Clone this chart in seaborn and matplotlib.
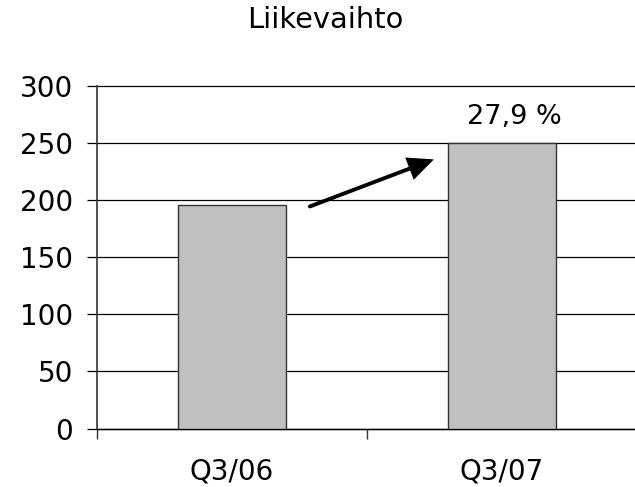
import matplotlib
matplotlib.use("Agg")
import matplotlib.pyplot as plt
import seaborn as sns
import pandas as pd

categories = ["Q3/06", "Q3/07"]
values = [195.5, 250.0]
yticks = [0, 50, 100, 150, 200, 250, 300]
title = "Liikevaihto"
growth_label = "27,9 %"

sns.set_style("white")
plt.rcParams['font.family'] = ['DejaVu Sans']
plt.rcParams['text.color'] = 'black'
plt.rcParams['xtick.color'] = 'black'
plt.rcParams['ytick.color'] = 'black'

df = pd.DataFrame({"quarter": categories, "value": values})

left_px, right_px, top_px, bottom_px = 96.7, 637.0, 85.7, 428.5
fig = plt.figure(figsize=(6.35, 4.87), dpi=100)
ax = fig.add_axes([left_px/635, 1-bottom_px/487, (right_px-left_px)/635, (bottom_px-top_px)/487])

sns.barplot(data=df, x="quarter", y="value", ax=ax, color="#C0C0C0",
            saturation=1, width=0.4, edgecolor="#333333", linewidth=1.0, zorder=3)

ax.set_ylim(0, 300)
ax.set_xlim(-0.5, 1.5)
ax.set_yticks(yticks)
ax.set_yticklabels([str(t) for t in yticks])
ax.yaxis.grid(True, color="black", linewidth=0.9, zorder=0)
ax.set_axisbelow(True)
for gl in ax.get_ygridlines():
    gl.set_clip_on(False)
ax.set_xlabel("")
ax.set_ylabel("")

# x ticks at category boundaries, labels at centers
ax.set_xticks([-0.5, 0.5, 1.5])
ax.set_xticklabels(["", "", ""])
ax.set_xticks([0, 1], minor=True)
ax.set_xticklabels(categories, minor=True)
ax.tick_params(axis="x", which="major", direction="out", length=7, width=1, color="#333333", bottom=True)
ax.tick_params(axis="x", which="minor", length=0, pad=21, labelsize=20, labelcolor="black")
ax.tick_params(axis="y", direction="out", length=7, width=0.9, color="black", left=True, pad=10,
               labelsize=20, labelcolor="black")

for s in ["top", "right"]:
    ax.spines[s].set_visible(False)
ax.spines["left"].set_color("#333333")
ax.spines["left"].set_linewidth(1.2)
ax.spines["bottom"].set_color("black")
ax.spines["bottom"].set_linewidth(1.0)

ax.annotate("", xy=(0.748, 235.5), xytext=(0.289, 194.3),
            arrowprops=dict(arrowstyle="-|>,head_length=0.7,head_width=0.32", mutation_scale=20,
                            facecolor="black", edgecolor="black", lw=2.8, joinstyle="miter",
                            shrinkA=0, shrinkB=0), zorder=5)
ax.text(1.045, 273, growth_label, ha="center", va="center", fontsize=19.5, color="black")

fig.text(325.8/635, 1-28.3/487, title, ha="center", va="baseline", fontsize=20.8, color="black")

fig.savefig("out.png", dpi=100)
